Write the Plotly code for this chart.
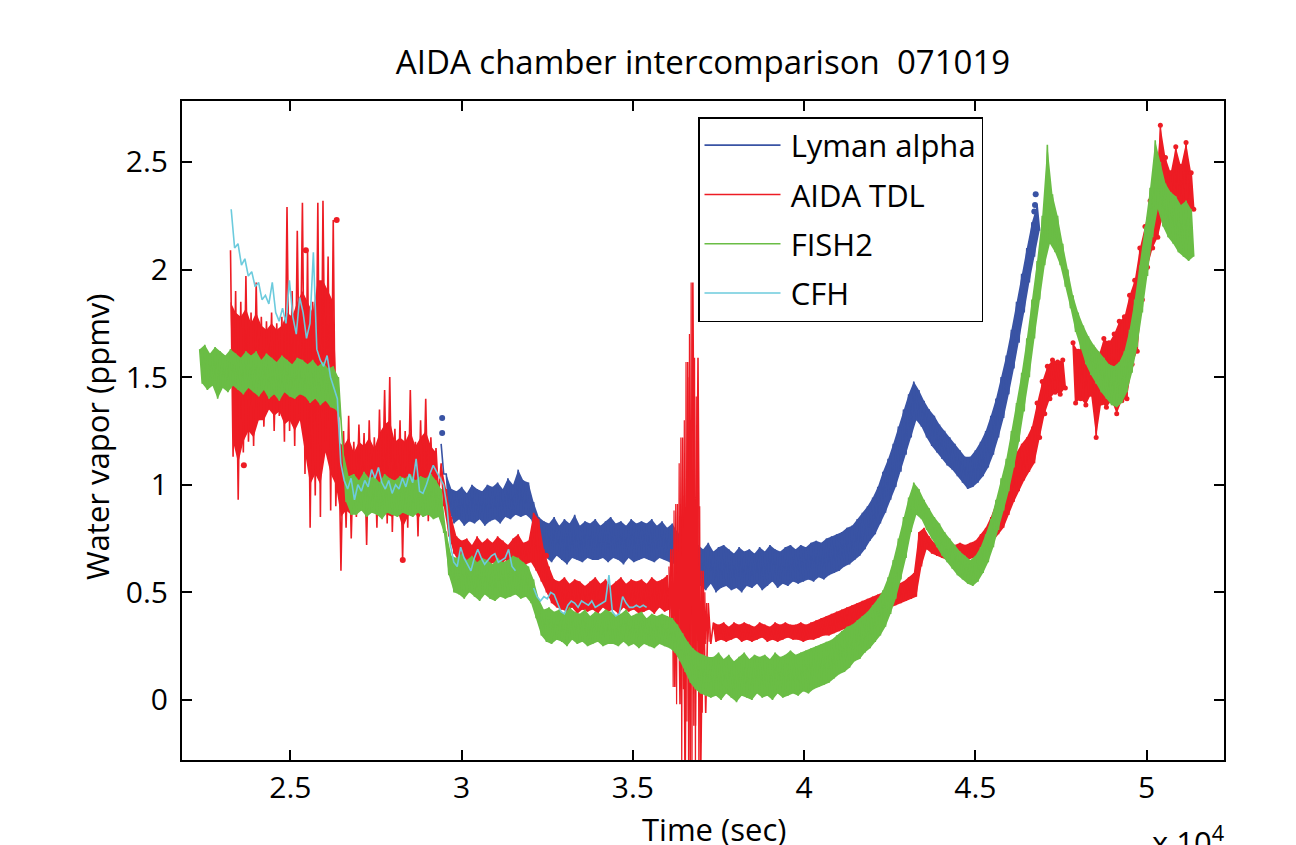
import plotly.graph_objects as go

# ---------------- axes / labels ----------------
x_range = [21834, 52258]
y_range = [-0.279, 2.783]
x_tick_vals = [25000, 30000, 35000, 40000, 45000, 50000]
x_tick_text = ["2.5", "3", "3.5", "4", "4.5", "5"]
y_tick_vals = [0, 0.5, 1, 1.5, 2, 2.5]
y_tick_text = ["0", "0.5", "1", "1.5", "2", "2.5"]
series_names = ["Lyman alpha", "AIDA TDL", "FISH2", "CFH"]
series_colors = ["#3953A4", "#ED1C24", "#6ABD45", "#6CCBDD"]

# ---------------- Lyman alpha (upper / lower noise envelope per sample) ----------------
lyman_t0, lyman_dt = 29400, 150
lyman_hi = [1.19,1.05,0.98,0.97,0.99,0.96,1.00,0.98,0.97,1.00,
            0.99,1.01,0.98,1.03,1.00,1.07,1.02,1.01,0.92,0.85,
            0.83,0.82,0.85,0.81,0.84,0.82,0.86,0.81,0.83,0.82,
            0.84,0.81,0.83,0.85,0.82,0.83,0.81,0.84,0.82,0.83,
            0.82,0.84,0.81,0.83,0.80,0.82,0.78,0.75,0.73,0.72,
            0.72,0.70,0.73,0.69,0.71,0.72,0.70,0.68,0.71,0.69,
            0.70,0.68,0.71,0.69,0.72,0.70,0.69,0.71,0.72,0.70,
            0.72,0.71,0.73,0.74,0.73,0.75,0.76,0.77,0.78,0.80,
            0.81,0.84,0.87,0.90,0.94,0.99,1.06,1.12,1.19,1.27,
            1.35,1.42,1.48,1.44,1.39,1.35,1.32,1.28,1.25,1.22,
            1.19,1.16,1.13,1.13,1.16,1.20,1.25,1.32,1.40,1.50,
            1.60,1.72,1.85,1.98,2.10,2.22,2.30]
lyman_lo = [1.05,0.88,0.82,0.84,0.81,0.83,0.82,0.84,0.81,0.83,
            0.84,0.82,0.85,0.84,0.86,0.85,0.86,0.84,0.76,0.68,
            0.66,0.64,0.67,0.65,0.63,0.66,0.65,0.64,0.66,0.65,
            0.65,0.66,0.64,0.66,0.65,0.63,0.66,0.64,0.65,0.66,
            0.65,0.64,0.66,0.65,0.64,0.63,0.60,0.57,0.55,0.54,
            0.53,0.51,0.54,0.50,0.52,0.53,0.51,0.52,0.50,0.53,
            0.52,0.54,0.51,0.53,0.55,0.52,0.54,0.53,0.55,0.54,
            0.55,0.56,0.55,0.57,0.56,0.58,0.59,0.60,0.62,0.63,
            0.65,0.67,0.70,0.74,0.77,0.82,0.87,0.93,0.99,1.06,
            1.14,1.22,1.30,1.27,1.22,1.18,1.15,1.12,1.09,1.07,
            1.04,1.01,0.98,0.99,1.01,1.04,1.08,1.14,1.22,1.31,
            1.42,1.54,1.66,1.80,1.94,2.06,2.18]
lyman_dot_t = [29430, 29430, 46760, 46740, 46720]
lyman_dot_y = [1.31, 1.24, 2.35, 2.30, 2.27]

# ---------------- AIDA TDL ----------------
tdl_t0, tdl_dt = 23250, 150
tdl_hi = [2.09,1.90,1.85,1.97,1.80,1.94,1.78,1.76,1.80,1.75,
          1.78,2.29,1.90,2.18,2.31,2.09,1.85,2.31,2.32,2.06,
          2.23,1.35,1.25,1.32,1.20,1.28,1.24,1.30,1.22,1.35,
          1.44,1.50,1.26,1.30,1.25,1.44,1.20,1.30,1.40,1.22,
          1.17,1.10,0.98,0.85,0.76,0.74,0.75,0.72,0.76,0.73,
          0.75,0.73,0.76,0.74,0.72,0.75,0.77,0.73,0.74,0.87,
          0.84,0.70,0.62,0.56,0.55,0.57,0.54,0.56,0.55,0.53,
          0.55,0.57,0.54,0.56,0.53,0.55,0.57,0.54,0.56,0.55,
          0.56,0.54,0.57,0.55,0.56,0.58,0.70,0.91,1.22,1.57,
          1.94,1.59,0.60,0.45,0.36,0.35,0.36,0.34,0.36,0.35,
          0.36,0.35,0.34,0.36,0.35,0.34,0.36,0.35,0.36,0.35,
          0.35,0.36,0.35,0.36,0.37,0.38,0.39,0.40,0.41,0.42,
          0.43,0.44,0.45,0.46,0.47,0.48,0.49,0.50,0.52,0.53,
          0.54,0.55,0.57,0.59,0.78,0.80,0.76,0.73,0.72,0.73,
          0.73,0.72,0.73,0.72,0.73,0.74,0.77,0.80,0.85,0.92,
          0.98,1.04,1.10,1.15,1.19,1.22,1.27,1.38,1.48,1.55,
          1.58,1.57,1.58,None,1.66,1.62,1.65,1.61,1.63,1.60,
          1.68,1.66,1.70,1.76,1.78,1.88,1.95,2.10,2.20,2.32,
          2.37,2.67,2.52,2.45,2.57,2.48,2.59,2.45]
tdl_lo = [1.13,0.93,1.15,1.20,1.18,1.30,1.27,1.35,1.25,1.32,
          1.20,1.25,1.18,1.30,1.05,0.80,0.95,0.85,1.20,0.88,
          0.90,0.60,0.80,0.75,0.85,0.90,0.72,0.88,0.80,0.86,
          0.82,0.78,0.87,0.65,0.80,0.88,0.76,0.85,0.83,0.92,
          0.95,0.90,0.76,0.68,0.64,0.62,0.63,0.61,0.64,0.62,
          0.63,0.64,0.62,0.65,0.63,0.64,0.62,0.63,0.64,0.60,
          0.55,0.50,0.45,0.43,0.42,0.41,0.43,0.40,0.42,0.41,
          0.42,0.40,0.43,0.41,0.42,0.40,0.43,0.41,0.42,0.40,
          0.41,0.42,0.40,0.43,0.41,0.42,0.06,-0.02,-0.40,-0.40,
          -0.12,-0.40,-0.06,0.26,0.27,0.28,0.27,0.28,0.29,0.27,
          0.28,0.27,0.28,0.29,0.27,0.28,0.27,0.28,0.29,0.28,
          0.28,0.27,0.28,0.28,0.29,0.30,0.30,0.31,0.32,0.33,
          0.34,0.35,0.36,0.38,0.39,0.40,0.41,0.42,0.43,0.44,
          0.45,0.46,0.47,0.48,0.62,0.70,0.68,0.67,0.66,0.65,
          0.65,0.66,0.65,0.65,0.66,0.67,0.69,0.71,0.74,0.77,
          0.80,0.86,0.92,0.97,1.02,1.06,1.10,1.22,1.33,1.40,
          1.43,1.42,1.45,None,1.38,1.40,1.37,1.42,1.22,1.38,
          1.36,1.39,1.33,1.39,1.40,1.56,1.62,1.86,2.01,2.10,
          2.15,2.25,2.28,2.24,2.26,2.30,2.25,2.28]
# dense core of the noisy early part (where the trace looks solid)
tdl_core_t0, tdl_core_dt = 23250, 150
tdl_core_hi = [1.85,1.80,1.78,1.82,1.75,1.80,1.74,1.72,1.75,1.72,
               1.74,1.80,1.78,1.85,1.90,1.85,1.80,1.95,1.95,1.90,
               1.85,1.20,1.18,1.22,1.15,1.20,1.18,1.22,1.17,1.24,
               1.28,1.30,1.20,1.22,1.20,1.25,1.18,1.22,1.25,1.18,
               1.15]
tdl_core_lo = [1.20,1.10,1.20,1.25,1.22,1.30,1.30,1.35,1.32,1.34,
               1.28,1.30,1.25,1.30,1.15,1.00,1.05,1.00,1.15,1.05,
               1.00,0.85,0.88,0.86,0.88,0.90,0.85,0.90,0.86,0.88,
               0.86,0.85,0.88,0.80,0.85,0.90,0.84,0.88,0.88,0.95,
               0.98]
# finer reading of the burst near 3.65e4 s
tdl_burst_t0, tdl_burst_dt = 36050, 50
tdl_burst_hi = [0.62,0.70,0.64,0.88,0.91,0.75,1.10,1.22,0.95,1.30,
                1.57,1.50,1.70,1.94,1.45,1.59,1.41,1.20,0.90,0.60,
                0.55,0.50,0.45,0.40]
tdl_burst_lo = [0.38,0.25,0.06,0.30,-0.02,0.20,0.10,-0.35,0.05,-0.40,
                -0.10,-0.40,0.00,-0.40,-0.12,-0.40,0.10,-0.40,-0.20,-0.06,
                0.20,0.26,0.28,0.27]
tdl_dot_t = [23640, 25450, 26350, 28280, 32460]
tdl_dot_y = [1.09, 2.09, 2.23, 0.65, 0.67]
tdl_dotted_from = 46800   # samples after this time are drawn with dots as well

# ---------------- FISH2 ----------------
fish_t0, fish_dt = 22350, 150
fish_hi = [1.63,1.65,1.61,1.64,1.62,1.60,1.63,1.61,1.59,1.62,
           1.60,1.62,1.58,1.61,1.59,1.57,1.60,1.58,1.56,1.59,
           1.58,1.56,1.58,1.55,1.57,1.54,1.55,1.50,1.15,1.04,
           1.05,1.02,1.06,1.03,1.04,1.01,1.05,1.03,1.02,1.04,
           1.03,1.05,1.02,1.04,1.03,1.05,1.02,0.98,0.78,0.67,
           0.66,0.68,0.65,0.67,0.64,0.66,0.65,0.63,0.66,0.64,
           0.65,0.67,0.66,0.64,0.62,0.56,0.47,0.42,0.43,0.41,
           0.42,0.40,0.43,0.41,0.40,0.42,0.39,0.41,0.40,0.42,
           0.41,0.39,0.40,0.42,0.39,0.40,0.41,0.38,0.40,0.39,
           0.40,0.39,0.38,0.35,0.31,0.27,0.24,0.22,0.21,0.20,
           0.20,0.22,0.19,0.21,0.18,0.20,0.22,0.19,0.21,0.20,
           0.21,0.19,0.22,0.20,0.21,0.23,0.21,0.22,0.23,0.24,
           0.25,0.26,0.27,0.28,0.30,0.32,0.34,0.35,0.37,0.39,
           0.41,0.44,0.47,0.51,0.57,0.65,0.75,0.85,0.94,1.01,
           0.98,0.93,0.89,0.85,0.82,0.78,0.75,0.72,0.69,0.67,
           0.65,0.67,0.71,0.77,0.84,0.93,1.03,1.12,1.25,1.38,
           1.52,1.68,1.86,2.04,2.25,2.58,2.35,2.25,2.12,2.00,
           1.88,1.80,1.74,1.69,1.65,1.62,1.59,1.56,1.55,1.57,
           1.62,1.72,1.86,2.02,2.20,2.38,2.60,2.50,2.40,2.36,
           2.34,2.30,2.32,2.28]
fish_lo = [1.47,1.44,1.46,1.40,1.45,1.43,1.46,1.44,1.42,1.45,
           1.43,1.41,1.44,1.40,1.42,1.39,1.43,1.41,1.40,1.42,
           1.41,1.38,1.40,1.37,1.39,1.36,1.35,1.30,0.92,0.86,
           0.86,0.88,0.85,0.87,0.86,0.84,0.87,0.86,0.85,0.87,
           0.86,0.85,0.87,0.85,0.86,0.84,0.85,0.78,0.58,0.50,
           0.49,0.47,0.50,0.48,0.46,0.49,0.47,0.46,0.48,0.47,
           0.48,0.49,0.47,0.48,0.45,0.38,0.30,0.27,0.26,0.28,
           0.27,0.25,0.28,0.26,0.27,0.25,0.26,0.27,0.25,0.26,
           0.26,0.25,0.27,0.25,0.26,0.24,0.26,0.25,0.24,0.26,
           0.25,0.24,0.22,0.18,0.13,0.08,0.05,0.03,0.02,0.01,
           0.02,0.00,0.03,0.01,-0.01,0.02,0.01,0.00,0.03,0.01,
           0.02,0.00,0.03,0.01,0.02,0.03,0.02,0.04,0.03,0.05,
           0.06,0.07,0.08,0.10,0.12,0.13,0.15,0.18,0.19,0.22,
           0.24,0.27,0.30,0.34,0.40,0.47,0.56,0.66,0.78,0.86,
           0.84,0.79,0.75,0.71,0.67,0.64,0.61,0.58,0.56,0.54,
           0.53,0.55,0.59,0.64,0.71,0.79,0.88,0.97,1.08,1.20,
           1.34,1.50,1.68,1.86,2.02,2.12,2.08,2.02,1.92,1.82,
           1.71,1.63,1.56,1.51,1.47,1.43,1.40,1.37,1.36,1.38,
           1.43,1.52,1.64,1.80,1.97,2.15,2.28,2.20,2.15,2.12,
           2.08,2.06,2.04,2.06]

# ---------------- CFH (single line, two recorded pieces) ----------------
cfh_a_t0, cfh_a_dt = 23270, 100
cfh_a = [2.28,2.10,2.12,2.02,2.05,1.97,1.99,1.92,1.94,1.86,
         1.88,1.84,1.94,1.80,1.76,1.82,1.75,1.95,1.78,1.70,
         1.87,1.80,1.68,1.75,2.08,1.63,1.58,1.55,1.60,1.50,
         1.45,1.40,1.10,1.02,0.98,1.03,0.93,1.00,0.97,1.02,
         0.99,1.07,1.03,1.08,1.01,0.98,1.02,0.96,1.00,0.98,
         1.03,0.99,1.05,1.01,1.12,0.97,0.96,1.00,1.05,1.09,
         1.06,1.03,1.00,0.90,0.72,0.64,0.62,0.71,0.66,0.63,
         0.60,0.66,0.70,0.66,0.63,0.65,0.67,0.68,0.64,0.65,
         0.66,0.70,0.62,0.60]
cfh_b_t0, cfh_b_dt = 32100, 100
cfh_b = [0.52,0.48,0.46,0.48,0.47,0.50,0.49,0.45,0.41,0.40,
         0.44,0.46,0.45,0.43,0.46,0.45,0.44,0.46,0.43,0.44,
         0.45,0.46,0.58,0.41,0.39,0.40,0.48,0.45,0.43,0.43,
         0.44,0.43,0.44,0.43]

# time windows in which the noise band is dense enough to read as solid
lyman_solid = [(29550, 46800)]
tdl_solid = [(29400, 36000), (37250, 47550), (47850, 51300)]
tdl_core_solid = [(23250, 29250)]
fish_solid = [(22350, 51300)]


def band(t0, dt, hi, lo):
    """Alternate upper / lower envelope samples so the trace draws the noise band."""
    xs, ys = [], []
    for i, (h, l) in enumerate(zip(hi, lo)):
        t = t0 + i * dt
        xs += [t, t + dt / 2]
        ys += [h, l]
    return xs, ys


def band_polygon(t0, dt, hi, lo, windows):
    xs, ys = [], []
    for a, b in windows:
        idx = [i for i in range(len(hi))
               if a <= t0 + i * dt <= b and hi[i] is not None and lo[i] is not None]
        if not idx:
            continue
        up_x = [t0 + i * dt for i in idx]
        up_y = [hi[i] for i in idx]
        dn_x = [t0 + i * dt + dt / 2 for i in idx][::-1]
        dn_y = [lo[i] for i in idx][::-1]
        xs += up_x + dn_x + [up_x[0], None]
        ys += up_y + dn_y + [up_y[0], None]
    return xs, ys


def line(t0, dt, vals):
    return [t0 + i * dt for i in range(len(vals))], vals


fig = go.Figure()
LW = 1.6


def add_fill(xs, ys, color):
    fig.add_trace(go.Scatter(x=xs, y=ys, mode="lines", fill="toself", fillcolor=color,
                             line=dict(width=0, color=color), showlegend=False,
                             hoverinfo="skip"))


# Lyman alpha
add_fill(*band_polygon(lyman_t0, lyman_dt, lyman_hi, lyman_lo, lyman_solid), series_colors[0])
lx, ly = band(lyman_t0, lyman_dt, lyman_hi, lyman_lo)
fig.add_trace(go.Scatter(x=lx, y=ly, mode="lines", name="\u2009" + series_names[0],
                         legendgroup="a", line=dict(color=series_colors[0], width=LW)))
fig.add_trace(go.Scatter(x=lyman_dot_t, y=lyman_dot_y, mode="markers", showlegend=False,
                         marker=dict(color=series_colors[0], size=6)))

# AIDA TDL
add_fill(*band_polygon(tdl_t0, tdl_dt, tdl_hi, tdl_lo, tdl_solid), series_colors[1])
add_fill(*band_polygon(tdl_core_t0, tdl_core_dt, tdl_core_hi, tdl_core_lo, tdl_core_solid),
         series_colors[1])
rx, ry = band(tdl_t0, tdl_dt, tdl_hi, tdl_lo)
fig.add_trace(go.Scatter(x=rx, y=ry, mode="lines", name="\u2009" + series_names[1],
                         legendgroup="b", line=dict(color=series_colors[1], width=LW)))
bx, by = band(tdl_burst_t0, tdl_burst_dt, tdl_burst_hi, tdl_burst_lo)
fig.add_trace(go.Scatter(x=bx, y=by, mode="lines", showlegend=False,
                         line=dict(color=series_colors[1], width=1.2)))
late = [(x, y) for x, y in zip(rx, ry) if x >= tdl_dotted_from and y is not None]
fig.add_trace(go.Scatter(x=[p[0] for p in late], y=[p[1] for p in late], mode="markers",
                         showlegend=False, marker=dict(color=series_colors[1], size=5)))
fig.add_trace(go.Scatter(x=tdl_dot_t, y=tdl_dot_y, mode="markers", showlegend=False,
                         marker=dict(color=series_colors[1], size=6)))

# FISH2
add_fill(*band_polygon(fish_t0, fish_dt, fish_hi, fish_lo, fish_solid), series_colors[2])
gx, gy = band(fish_t0, fish_dt, fish_hi, fish_lo)
fig.add_trace(go.Scatter(x=gx, y=gy, mode="lines", name="\u2009" + series_names[2],
                         legendgroup="c", line=dict(color=series_colors[2], width=LW)))

# CFH
ax_, ay_ = line(cfh_a_t0, cfh_a_dt, cfh_a)
bx_, by_ = line(cfh_b_t0, cfh_b_dt, cfh_b)
fig.add_trace(go.Scatter(x=ax_ + [None] + bx_, y=ay_ + [None] + by_, mode="lines",
                         name="\u2009" + series_names[3], legendgroup="d",
                         line=dict(color=series_colors[3], width=LW)))

FONT = "Open Sans"
axis_common = dict(showline=True, linewidth=2, linecolor="black", mirror="ticks",
                   ticks="inside", ticklen=10, tickwidth=1.5, tickcolor="black",
                   showgrid=False, zeroline=False,
                   tickfont=dict(family=FONT, size=30, color="black"))

L, R, T, B = 182, 72, 101, 85
fig.update_layout(
    width=1296, height=845,
    margin=dict(l=L, r=R, t=T, b=B),
    paper_bgcolor="white", plot_bgcolor="white",
    font=dict(family=FONT, size=30, color="black"),
    title=dict(text="AIDA chamber intercomparison  071019", x=0.5, xref="paper",
               y=1 - 62 / 845, yref="container", yanchor="middle", xanchor="center",
               font=dict(family=FONT, size=33, color="black")),
    xaxis=dict(range=x_range, tickvals=x_tick_vals, ticktext=x_tick_text,
               ticklabelstandoff=0, **axis_common),
    yaxis=dict(range=y_range, tickvals=y_tick_vals, ticktext=y_tick_text,
               ticklabelstandoff=6, **axis_common),
    legend=dict(x=(698 - L) / (1296 - L - R), y=(845 - B - 117) / (845 - T - B),
                xanchor="left", yanchor="top",
                bgcolor="white", bordercolor="black", borderwidth=1.5,
                font=dict(family=FONT, size=31, color="black"),
                itemwidth=76, tracegroupgap=6),
)

pw, ph = 1296 - L - R, 845 - T - B
for text, px, py, angle in [("Time (sec)", 714, 829, 0),
                            ("Water vapor (ppmv)", 97, 437, -90),
                            ("x 10<sup>4</sup>", 1188, 840, 0)]:
    fig.add_annotation(text=text, x=(px - L) / pw, y=(845 - B - py) / ph,
                       xref="paper", yref="paper", xanchor="center", yanchor="middle",
                       textangle=angle, showarrow=False,
                       font=dict(family=FONT, size=31, color="black"))

fig.write_html("out.html", config={"displayModeBar": False},
               post_script="document.body.style.margin='0px';")
